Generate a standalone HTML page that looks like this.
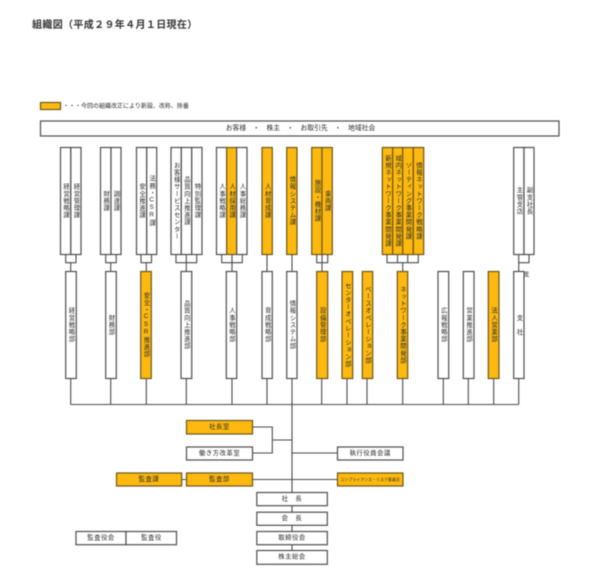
<!DOCTYPE html>
<html lang="ja">
<head>
<meta charset="utf-8">
<title>組織図</title>
<style>
html,body{margin:0;padding:0;background:#fff;width:600px;height:580px;overflow:hidden}
svg{display:block;filter:blur(.4px)}
text{font-family:"Liberation Sans","Noto Sans CJK JP",sans-serif;fill:#2a2a2a;font-size:6.4px}
.v{writing-mode:vertical-rl;text-orientation:upright;text-anchor:middle;letter-spacing:.7px}
.h{text-anchor:middle;dominant-baseline:central;letter-spacing:.5px}
.w{fill:#fff;stroke:#4d4d4d;stroke-width:1.2}
.y{fill:#fdb90f;stroke:#6a5518;stroke-width:1.2}
.l{fill:none;stroke:#4a4a4a;stroke-width:1.1}
</style>
</head>
<body>
<svg width="600" height="580" viewBox="0 0 600 580" xmlns="http://www.w3.org/2000/svg">
<text x="32" y="28" style="font-size:10px;font-weight:bold;fill:#333;letter-spacing:.35px">組織図（平成２９年４月１日現在）</text>

<rect class="y" x="40.5" y="102.5" width="20" height="7"/>
<text x="63" y="108" style="font-size:6px">・・・今回の組織改正により新設、改称、除番</text>
<rect class="w" x="40.5" y="121" width="518.5" height="15"/>
<text x="300.5" y="128.5" style="font-size:6.8px;text-anchor:middle;dominant-baseline:central">お客様　・　株主　・　お取引先　・　地域社会</text>

<!-- connectors -->
<path class="l" d="M65.7 254V262.7H76V254M70.7 262.7V271.5
M105.7 254V262.7H116.2V254M110.7 262.7V271.5
M141 254V262.7H151.5V254M146.3 262.7V271.5
M176 254V262.7H196.7V254M186.3 254V271.5
M221.7 254V262.7H242.3V254M232 254V271.5
M267 254V271.5M292 254V271.5
M316.7 254V262.7H327.7V254M322 254V271.5
M387 254V262.7H418.3V254M397.5 254V262.7M407.7 254V262.7M402.7 262.7V271.5
M518.7 254V262.7H529V254M518.7 262.7V271.5
M70.7 378V404.5M110.7 378V404.5M146.3 378V404.5M186.3 378V404.5M232 378V404.5M267 378V404.5M321.7 378V404.5M347 378V404.5M367 378V404.5M402.7 378V404.5M443.3 378V404.5M468.3 378V404.5M493.7 378V404.5M518.7 378V404.5
M70.7 404.5H518.7
M292 378V492.5M292 505.7V512.5M292 525.3V531.5M292 544.7V550.5
M252.3 427H272.3V453H252.3M272.3 440H292M292 453H337.5M252.3 479.5H337.5M181.7 479.5H186.3"/>

<!-- section row -->
<rect class="w" x="60.5" y="147.5" width="10.3" height="107"/><rect class="w" x="70.8" y="147.5" width="10.2" height="107"/>
<text class="v" x="65.6" y="200.8">経営戦略課</text><text class="v" x="75.9" y="200.8">経営管理課</text>
<rect class="w" x="100.5" y="147.5" width="10.5" height="107"/><rect class="w" x="111" y="147.5" width="10" height="107"/>
<text class="v" x="105.7" y="200.8">財務課</text><text class="v" x="116" y="200.8">調達課</text>
<rect class="w" x="136.5" y="147.5" width="10.2" height="107"/><rect class="w" x="146.7" y="147.5" width="10" height="107"/>
<text class="v" x="141.6" y="200.8">安全推進課</text><text class="v" x="151.7" y="200.8">法務・CSR課</text>
<rect class="w" x="171" y="147.5" width="10.3" height="107"/><rect class="w" x="181.3" y="147.5" width="10.4" height="107"/><rect class="w" x="191.7" y="147.5" width="10.3" height="107"/>
<text class="v" x="176.2" y="200.8">お客様サービスセンター</text><text class="v" x="186.5" y="200.8">品質向上推進課</text><text class="v" x="196.9" y="200.8">特別監理課</text>
<rect class="w" x="216.5" y="147.5" width="10.2" height="107"/><rect class="y" x="226.7" y="147.5" width="10" height="107"/><rect class="w" x="236.7" y="147.5" width="10.3" height="107"/>
<text class="v" x="221.6" y="200.8">人事戦略課</text><text class="v" x="231.7" y="200.8">人材採用課</text><text class="v" x="241.9" y="200.8">人事総務課</text>
<rect class="y" x="262" y="147.5" width="10.3" height="107"/><text class="v" x="267.2" y="200.8">人材育成課</text>
<rect class="y" x="286.7" y="147.5" width="10.3" height="107"/><text class="v" x="291.9" y="200.8">情報システム課</text>
<rect class="y" x="311.7" y="147.5" width="10.3" height="107"/><rect class="y" x="322" y="147.5" width="10.3" height="107"/>
<text class="v" x="316.9" y="200.8">施設・機材課</text><text class="v" x="327.2" y="200.8">車両課</text>
<rect class="y" x="382.3" y="147.5" width="10.4" height="107"/><rect class="y" x="392.7" y="147.5" width="10" height="107"/><rect class="y" x="402.7" y="147.5" width="10.6" height="107"/><rect class="y" x="413.3" y="147.5" width="10.4" height="107"/>
<text class="v" x="387.5" y="200.8">新規ネットワーク事業開発課</text><text class="v" x="397.7" y="200.8">域内ネットワーク事業開発課</text><text class="v" x="408" y="200.8">ソーティング事業開発課</text><text class="v" x="418.5" y="200.8">情報ネットワーク戦略課</text>
<rect class="w" x="513.7" y="147.5" width="10.3" height="107"/><rect class="w" x="524" y="147.5" width="10" height="107"/>
<text class="v" x="518.9" y="200.8">主管支店</text><text class="v" x="529" y="200.8">副支社長</text>

<!-- department row -->
<rect class="w" x="65.7" y="271.5" width="10.6" height="107"/><text class="v" x="71" y="324.8">経営戦略部</text>
<rect class="w" x="105.7" y="271.5" width="10.6" height="107"/><text class="v" x="111" y="324.8">財務部</text>
<rect class="y" x="140.7" y="271.5" width="10.6" height="107"/><text class="v" x="146" y="324.8">安全・CSR推進部</text>
<rect class="w" x="181" y="271.5" width="10.7" height="107"/><text class="v" x="186.3" y="324.8">品質向上推進部</text>
<rect class="w" x="226.3" y="271.5" width="10.4" height="107"/><text class="v" x="231.5" y="324.8">人事戦略部</text>
<rect class="w" x="262" y="271.5" width="10.3" height="107"/><text class="v" x="267.2" y="324.8">育成戦略部</text>
<rect class="w" x="286.7" y="271.5" width="10.3" height="107"/><text class="v" x="291.9" y="324.8">情報システム部</text>
<rect class="y" x="316.7" y="271.5" width="11" height="107"/><text class="v" x="322.2" y="324.8">設備管理部</text>
<rect class="y" x="342" y="271.5" width="10.7" height="107"/><text class="v" x="347.3" y="324.8">センターオペレーション部</text>
<rect class="y" x="362.3" y="271.5" width="10.4" height="107"/><text class="v" x="367.5" y="324.8">ベースオペレーション部</text>
<rect class="y" x="397.3" y="271.5" width="10.4" height="107"/><text class="v" x="402.5" y="324.8">ネットワーク事業開発部</text>
<rect class="w" x="438" y="271.5" width="10.7" height="107"/><text class="v" x="443.3" y="324.8">広報戦略部</text>
<rect class="w" x="463.3" y="271.5" width="10.7" height="107"/><text class="v" x="468.6" y="324.8">営業推進部</text>
<rect class="y" x="488.3" y="271.5" width="10.7" height="107"/><text class="v" x="493.6" y="324.8">法人営業部</text>
<rect class="w" x="513.7" y="271.5" width="10.3" height="107"/><text class="v" x="518.9" y="324.8">支　社</text>
<text class="h" x="526.7" y="275.7" style="font-size:6px">支</text>

<!-- lower boxes -->
<rect class="y" x="186.5" y="420.5" width="66" height="13.5"/><text class="h" x="219.5" y="427.2">社長室</text>
<rect class="w" x="186.5" y="447" width="66" height="13"/><text class="h" x="219.5" y="453.5">働き方改革室</text>
<rect class="y" x="116.5" y="473" width="65.2" height="13"/><text class="h" x="149" y="479.5">監査課</text>
<rect class="y" x="186.5" y="473" width="66" height="13"/><text class="h" x="219.5" y="479.5">監査部</text>
<rect class="w" x="337.5" y="447" width="65.5" height="13"/><text class="h" x="370.2" y="453.5">執行役員会議</text>
<rect class="y" x="337.5" y="473" width="65.5" height="13"/><text x="370.2" y="479.5" style="font-size:4px;text-anchor:middle;dominant-baseline:central">コンプライアンス・リスク委員会</text>
<rect class="w" x="256.8" y="492.5" width="70.5" height="13.2"/><text class="h" x="292" y="499">社　長</text>
<rect class="w" x="256.8" y="512.2" width="70.5" height="13.1"/><text class="h" x="292" y="518.7">会　長</text>
<rect class="w" x="256.8" y="531.5" width="70.5" height="13.2"/><text class="h" x="292" y="538">取締役会</text>
<rect class="w" x="256.8" y="550.5" width="70.5" height="13.8"/><text class="h" x="292" y="557">株主総会</text>
<rect class="w" x="76" y="531.5" width="50" height="13.2"/><rect class="w" x="126" y="531.5" width="50.5" height="13.2"/>
<text class="h" x="101" y="538">監査役会</text><text class="h" x="151.5" y="538">監査役</text>
</svg>
</body>
</html>
